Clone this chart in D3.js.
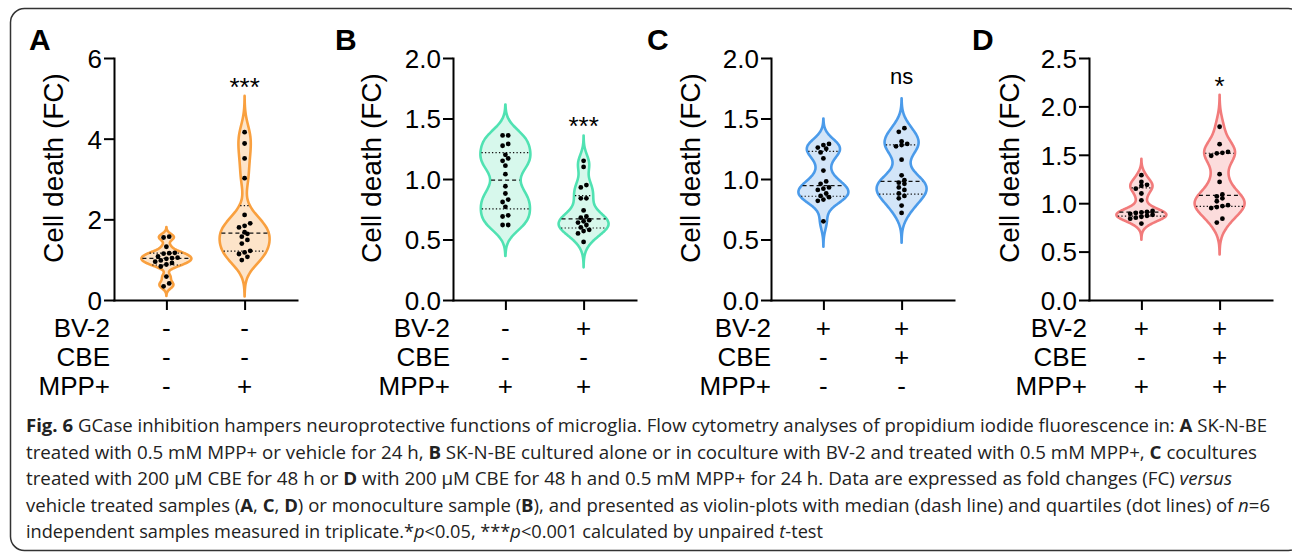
<!DOCTYPE html>
<html>
<head>
<meta charset="utf-8">
<script src="https://cdn.jsdelivr.net/npm/d3@7"></script>
<style>
  body { margin: 0; background: #fff; }
  svg { display: block; }
  .plot text { font-family: "Liberation Sans", Arial, sans-serif; fill: #000; }
  .caption { font-family: "Open Sans", "Noto Sans", sans-serif; font-size: 18px; fill: #222; }
</style>
</head>
<body>
<div id="container"></div>
<script>
const WIDTH = 1292;
const HEIGHT = 553;

// ---- data ----
const panelLetters = ['A', 'B', 'C', 'D'];
const groups = ['g1', 'g2'];
const yLabel = 'Cell death (FC)';

const yTicksA = [0, 2, 4, 6];
const yTicksB = [0, 0.5, 1, 1.5, 2];
const yTicksC = [0, 0.5, 1, 1.5, 2];
const yTicksD = [0, 0.5, 1, 1.5, 2, 2.5];
const yTickFormat = ['d', '.1f', '.1f', '.1f'];

const cellDeathA1 = [1.57, 1.55, 1.32, 1.17, 1.16, 1.15, 1.08, 1.05, 1.04, 1.02, 0.98, 0.95, 0.92, 0.88, 0.83, 0.58, 0.41, 0.34];
const cellDeathA2 = [4.16, 3.88, 3.51, 3.02, 2.11, 1.90, 1.84, 1.80, 1.68, 1.64, 1.57, 1.49, 1.40, 1.22, 1.18, 1.14, 1.07, 0.99];
const cellDeathB1 = [1.36, 1.36, 1.29, 1.275, 1.20, 1.17, 1.15, 1.11, 1.04, 0.94, 0.88, 0.83, 0.81, 0.77, 0.70, 0.69, 0.62, 0.62];
const cellDeathB2 = [1.15, 1.10, 0.95, 0.93, 0.84, 0.84, 0.74, 0.69, 0.68, 0.66, 0.65, 0.64, 0.62, 0.60, 0.58, 0.57, 0.55, 0.48];
const cellDeathC1 = [1.29, 1.28, 1.26, 1.25, 1.22, 1.17, 1.07, 0.98, 0.96, 0.93, 0.92, 0.91, 0.88, 0.86, 0.85, 0.83, 0.82, 0.65];
const cellDeathC2 = [1.42, 1.39, 1.31, 1.29, 1.28, 1.27, 1.16, 1.03, 0.99, 0.97, 0.96, 0.93, 0.91, 0.88, 0.86, 0.84, 0.78, 0.72];
const cellDeathD1 = [1.29, 1.22, 1.19, 1.18, 1.15, 1.10, 1.03, 0.92, 0.91, 0.905, 0.90, 0.89, 0.88, 0.87, 0.86, 0.85, 0.84, 0.79];
const cellDeathD2 = [1.79, 1.61, 1.53, 1.52, 1.515, 1.49, 1.30, 1.22, 1.09, 1.07, 1.05, 1.02, 0.98, 0.97, 0.96, 0.95, 0.84, 0.80];

const rowLabels = ['BV-2', 'CBE', 'MPP+'];
const bv2Signs = [['-', '-'], ['-', '+'], ['+', '+'], ['+', '+']];
const cbeSigns = [['-', '-'], ['-', '-'], ['-', '+'], ['-', '+']];
const mppSigns = [['-', '+'], ['+', '+'], ['-', '-'], ['+', '+']];
const sigLabels = ['***', '***', 'ns', '*'];

const captionLines = [
  [['Fig. 6', 'b'], [' GCase inhibition hampers neuroprotective functions of microglia. Flow cytometry analyses of propidium iodide fluorescence in: '], ['A', 'b'], [' SK-N-BE']],
  [['treated with 0.5 mM MPP+ or vehicle for 24 h, '], ['B', 'b'], [' SK-N-BE cultured alone or in coculture with BV-2 and treated with 0.5 mM MPP+, '], ['C', 'b'], [' cocultures']],
  [['treated with 200 \u03bcM CBE for 48 h or '], ['D', 'b'], [' with 200 \u03bcM CBE for 48 h and 0.5 mM MPP+ for 24 h. Data are expressed as fold changes (FC) '], ['versus', 'i']],
  [['vehicle treated samples ('], ['A', 'b'], [', '], ['C', 'b'], [', '], ['D', 'b'], [') or monoculture sample ('], ['B', 'b'], ['), and presented as violin-plots with median (dash line) and quartiles (dot lines) of '], ['n', 'i'], ['=6']],
  [['independent samples measured in triplicate.*'], ['p', 'i'], ['<0.05, ***'], ['p', 'i'], ['<0.001 calculated by unpaired '], ['t', 'i'], ['-test']]
];

// ---- layout / style ----
const Y_TOP = 58;
const Y_BOT = 300;
const AXIS_W = 183;
const VIOLIN_W = 50;
const ROW_Y = [337, 366, 395];
const CAPTION_X = 26;
const CAPTION_Y = [432, 458.5, 485, 511.5, 538];
const CAPTION_W = [1241, 1231, 1206, 1244, 797];

const panels = [
  { x: 114, letterX: 29, labelX: 63, rowX: 110, ticks: yTicksA, data: [cellDeathA1, cellDeathA2], bw: [0.08, 0.3], stroke: '#F9A03F', fill: '#FDE4C9' },
  { x: 453, letterX: 335, labelX: 381, rowX: 450, ticks: yTicksB, data: [cellDeathB1, cellDeathB2], bw: [0.085, 0.07], stroke: '#50E2B2', fill: '#D7F8EC' },
  { x: 771, letterX: 647, labelX: 700, rowX: 771, ticks: yTicksC, data: [cellDeathC1, cellDeathC2], bw: [0.07, 0.082], stroke: '#4B9BEA', fill: '#D3E5F8' },
  { x: 1089, letterX: 972, labelX: 1019, rowX: 1087, ticks: yTicksD, data: [cellDeathD1, cellDeathD2], bw: [0.056, 0.11], stroke: '#F27B7B', fill: '#FCDCDC' }
];

const svg = d3.select('#container')
  .append('svg')
    .attr('width', WIDTH)
    .attr('height', HEIGHT);

svg.append('rect')
    .attr('x', 10.5).attr('y', 8.5)
    .attr('width', WIDTH).attr('height', 542)
    .attr('rx', 14)
    .attr('fill', 'none')
    .attr('stroke', '#333')
    .attr('stroke-width', 1.5);

const gauss = u => Math.exp(-0.5 * u * u);
const kde = (values, bw) => v => d3.mean(values, d => gauss((v - d) / bw));

// quartiles the way Prism does it: position p*(n+1)
const quant = (sorted, p) => {
  const n = sorted.length;
  const pos = p * (n + 1);
  if (pos <= 1) return sorted[0];
  if (pos >= n) return sorted[n - 1];
  const lo = Math.floor(pos);
  return sorted[lo - 1] + (pos - lo) * (sorted[lo] - sorted[lo - 1]);
};

panels.forEach((p, pi) => {
  const g = svg.append('g').attr('class', 'plot');

  const yscale = d3.scaleLinear()
    .domain([0, d3.max(p.ticks)])
    .range([Y_BOT, Y_TOP]);
  const xscale = d3.scalePoint()
    .domain(groups)
    .range([p.x, p.x + AXIS_W])
    .padding(0.67);

  // violins
  p.data.forEach((values, gi) => {
    const bw = p.bw[gi];
    const dens = kde(values, bw);
    const lo = d3.min(values) - 3 * bw;
    const hi = d3.max(values) + 3 * bw;
    const grid = d3.range(0, 201).map(i => lo + (hi - lo) * i / 200);
    const dmax = d3.max(grid, dens);
    const half = v => dens(v) / dmax * VIOLIN_W / 2;
    const cx = xscale(groups[gi]);

    const area = d3.area()
      .y(v => yscale(v))
      .x0(v => cx - half(v))
      .x1(v => cx + half(v))
      .curve(d3.curveBasis);

    g.append('path')
      .datum(grid)
      .attr('d', area)
      .attr('fill', p.fill)
      .attr('stroke', p.stroke)
      .attr('stroke-width', 2.6)
      .attr('stroke-linejoin', 'round');

    const sorted = values.slice().sort(d3.ascending);
    const lines = [
      { v: quant(sorted, 0.5), dash: '4,3' },
      { v: quant(sorted, 0.25), dash: '1.3,2.2' },
      { v: quant(sorted, 0.75), dash: '1.3,2.2' }
    ];
    g.selectAll(null)
      .data(lines)
      .enter()
      .append('line')
        .attr('x1', d => cx - half(d.v) + 1)
        .attr('x2', d => cx + half(d.v) - 1)
        .attr('y1', d => yscale(d.v))
        .attr('y2', d => yscale(d.v))
        .attr('stroke', '#111')
        .attr('stroke-width', 1.2)
        .attr('stroke-dasharray', d => d.dash);

    // dots, spread sideways when they sit on the same row
    const pts = sorted.map(v => ({ v, y: yscale(v) }));
    const rows = [];
    pts.forEach(pt => {
      const last = rows[rows.length - 1];
      if (last && Math.abs(last[0].y - pt.y) < 4.2) last.push(pt);
      else rows.push([pt]);
    });
    rows.forEach(r => r.forEach((pt, i) => { pt.dx = (i - (r.length - 1) / 2) * 5.6; }));

    g.selectAll(null)
      .data(pts)
      .enter()
      .append('circle')
        .attr('cx', d => cx + d.dx)
        .attr('cy', d => d.y)
        .attr('r', 2.4)
        .attr('fill', '#000');

    // significance label above the second violin
    if (gi === 1) {
      const isStar = sigLabels[pi] !== 'ns';
      g.append('text')
        .attr('x', cx)
        .attr('y', yscale(hi) + (isStar ? 0 : -14))
        .attr('text-anchor', 'middle')
        .attr('font-size', isStar ? 26 : 22)
        .text(sigLabels[pi]);
    }
  });

  // axes
  const axisLeft = d3.axisLeft(yscale)
    .tickValues(p.ticks)
    .tickSize(10)
    .tickSizeOuter(0)
    .tickPadding(2)
    .tickFormat(d3.format(yTickFormat[pi]));
  const yAxis = g.append('g')
    .attr('transform', `translate(${p.x}, 0)`)
    .call(axisLeft);
  yAxis.selectAll('text').attr('font-size', 26).attr('font-family', null).attr('dy', '0.36em');

  const axisBottom = d3.axisBottom(xscale)
    .tickSize(10)
    .tickSizeOuter(0)
    .tickFormat('');
  g.append('g')
    .attr('transform', `translate(0, ${Y_BOT})`)
    .call(axisBottom);

  g.selectAll('.domain, .tick line')
    .attr('stroke', '#000')
    .attr('stroke-width', 2);
  g.selectAll('.domain').attr('stroke-linecap', 'square');

  // y label
  g.append('text')
    .attr('transform', `translate(${p.labelX}, 168) rotate(-90)`)
    .attr('text-anchor', 'middle')
    .attr('font-size', 28)
    .text(yLabel);

  // panel letter
  g.append('text')
    .attr('x', p.letterX)
    .attr('y', 50)
    .attr('font-size', 30)
    .attr('font-weight', 'bold')
    .text(panelLetters[pi]);

  // treatment table
  const signs = [bv2Signs[pi], cbeSigns[pi], mppSigns[pi]];
  rowLabels.forEach((lab, ri) => {
    g.append('text')
      .attr('x', p.rowX)
      .attr('y', ROW_Y[ri])
      .attr('text-anchor', 'end')
      .attr('font-size', 26)
      .text(lab);
    g.selectAll(null)
      .data(signs[ri])
      .enter()
      .append('text')
        .attr('x', (d, i) => xscale(groups[i]))
        .attr('y', ROW_Y[ri])
        .attr('text-anchor', 'middle')
        .attr('font-size', 26)
        .text(d => d);
  });
});

// caption
const cap = svg.append('g').attr('class', 'caption');
captionLines.forEach((segs, li) => {
  const t = cap.append('text')
    .attr('x', CAPTION_X)
    .attr('y', CAPTION_Y[li])
    .attr('textLength', CAPTION_W[li])
    .attr('lengthAdjust', 'spacingAndGlyphs');
  segs.forEach(s => {
    t.append('tspan')
      .attr('font-weight', s[1] === 'b' ? 'bold' : null)
      .attr('font-style', s[1] === 'i' ? 'italic' : null)
      .text(s[0]);
  });
});
</script>
</body>
</html>
